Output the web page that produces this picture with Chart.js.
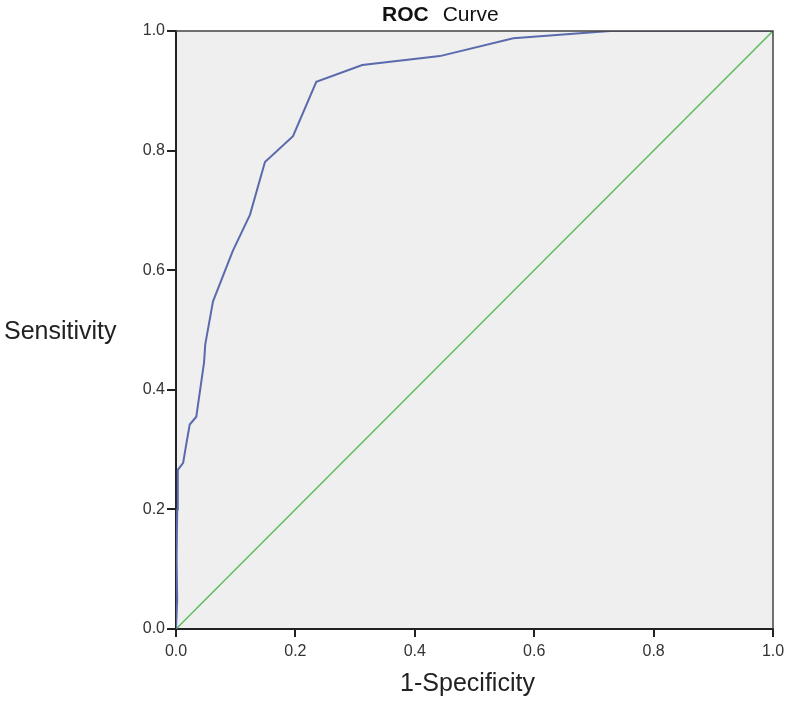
<!DOCTYPE html>
<html>
<head>
<meta charset="utf-8">
<script src="https://cdn.jsdelivr.net/npm/chart.js@4/dist/chart.umd.min.js"></script>
<style>
  html, body { margin: 0; padding: 0; background: #fff; }
  #wrap { width: 786px; height: 705px; }
</style>
</head>
<body>
<div id="wrap"><canvas id="roc" width="786" height="705"></canvas></div>
<script>
// ROC curve points (1-Specificity, Sensitivity)
const fpr = [0, 0.002, 0.001, 0.002, 0.003, 0.012, 0.017, 0.023, 0.034, 0.047, 0.049, 0.062, 0.095, 0.124, 0.149, 0.196, 0.235, 0.312, 0.442, 0.565, 0.727, 1.0];
const tpr = [0, 0.049, 0.116, 0.2, 0.266, 0.278, 0.308, 0.342, 0.355, 0.446, 0.476, 0.548, 0.632, 0.693, 0.781, 0.824, 0.915, 0.943, 0.958, 0.988, 1.0, 1.0];
// reference (chance) line
const refX = [0, 1];
const refY = [0, 1];
const tickValues = [0, 0.2, 0.4, 0.6, 0.8, 1.0];

const FONT = "'Liberation Sans', Arial, sans-serif";

// grey plot background + frame + titles
const decor = {
    id: 'decor',
    beforeDraw(chart) {
        const { ctx, chartArea: a } = chart;
        ctx.save();
        ctx.fillStyle = '#efefef';
        ctx.fillRect(a.left, a.top, a.right - a.left, a.bottom - a.top);
        ctx.restore();
    },
    afterDraw(chart) {
        const { ctx, chartArea: a } = chart;
        ctx.save();
        // top and right edge of the frame
        ctx.strokeStyle = '#444';
        ctx.lineWidth = 1.5;
        ctx.beginPath();
        ctx.moveTo(a.left, a.top);
        ctx.lineTo(a.right, a.top);
        ctx.lineTo(a.right, a.bottom);
        ctx.stroke();

        ctx.fillStyle = '#111';
        ctx.textBaseline = 'alphabetic';
        // title: "ROC" bold, "Curve" normal
        ctx.textAlign = 'left';
        ctx.font = 'bold 21px ' + FONT;
        const tx = a.left + 206;
        ctx.fillText('ROC', tx, a.top - 10);
        const w = ctx.measureText('ROC').width;
        ctx.font = '21px ' + FONT;
        ctx.fillText('Curve', tx + w + 14, a.top - 10);

        // axis titles
        ctx.fillStyle = '#222';
        ctx.font = '25px ' + FONT;
        ctx.fillText('Sensitivity', 4, (a.top + a.bottom) / 2 + 9);
        ctx.textAlign = 'center';
        ctx.fillText('1-Specificity', (a.left + a.right) / 2 - 7, a.bottom + 62);
        ctx.restore();
    }
};

const tickStyle = {
    color: '#333',
    font: { family: FONT, size: 16 },
    callback: v => Number(v).toFixed(1)
};

new Chart(document.getElementById('roc'), {
    type: 'scatter',
    data: {
        datasets: [
            {
                label: 'ROC',
                data: fpr.map((x, i) => ({ x: x, y: tpr[i] })),
                showLine: true,
                borderColor: '#5b6aad',
                borderWidth: 2,
                pointRadius: 0,
                tension: 0
            },
            {
                label: 'Reference',
                data: refX.map((x, i) => ({ x: x, y: refY[i] })),
                showLine: true,
                borderColor: '#5cbd5c',
                borderWidth: 1.5,
                pointRadius: 0,
                tension: 0
            }
        ]
    },
    options: {
        responsive: false,
        animation: false,
        layout: { padding: { top: 31, right: 13, left: 0, bottom: 0 } },
        plugins: {
            legend: { display: false },
            tooltip: { enabled: false },
            title: { display: false }
        },
        scales: {
            x: {
                type: 'linear',
                min: 0, max: 1,
                afterFit: s => { s.height = 76; s.paddingLeft = 0; s.paddingRight = 0; },
                afterBuildTicks: s => { s.ticks = tickValues.map(v => ({ value: v })); },
                ticks: Object.assign({ padding: 5 }, tickStyle),
                grid: { drawOnChartArea: false, tickLength: 8, color: '#222', lineWidth: 2 },
                border: { color: '#222', width: 2 }
            },
            y: {
                type: 'linear',
                min: 0, max: 1,
                afterFit: s => { s.width = 176; s.paddingTop = 0; s.paddingBottom = 0; },
                afterBuildTicks: s => { s.ticks = tickValues.map(v => ({ value: v })); },
                ticks: Object.assign({ padding: 2 }, tickStyle),
                grid: { drawOnChartArea: false, tickLength: 9, color: '#222', lineWidth: 2 },
                border: { color: '#222', width: 2 }
            }
        }
    },
    plugins: [decor]
});
</script>
</body>
</html>
